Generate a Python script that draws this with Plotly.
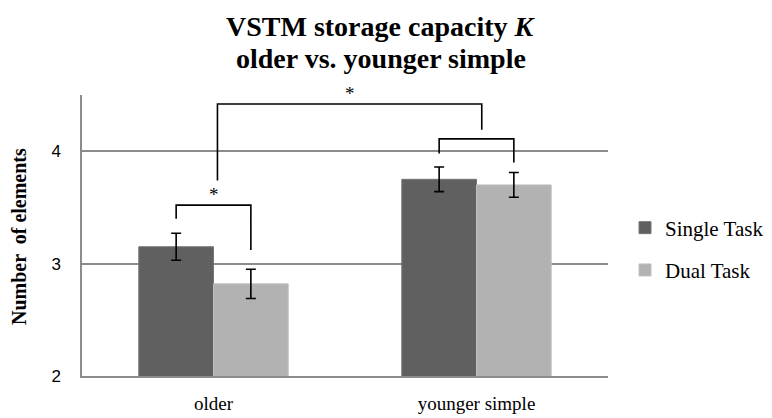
import plotly.graph_objects as go

# === DATA ===
groups = ['older', 'younger simple']
group_pos = [0, 1]
series_names = ['Single Task', 'Dual Task']
single_task = [3.15, 3.75]
single_err = [0.12, 0.11]
dual_task = [2.82, 3.70]
dual_err = [0.13, 0.11]
y_ticks = [2, 3, 4]

# significance brackets: (left x, right x, top y, left foot y, right foot y, label)
brackets = [
    (-0.142, 0.142, 3.52, 3.40, 3.12, '*'),
    (0.015, 1.02, 4.42, 3.74, 4.19, '*'),
    (0.858, 1.142, 4.11, 3.98, 3.90, ''),
]

SERIF = 'Liberation Serif, Times New Roman, serif'
colors = {'Single Task': '#606060', 'Dual Task': '#b2b2b2'}
edges = {'Single Task': '#767676', 'Dual Task': '#c0c0c0'}

# page body has an 8px margin, so the figure is drawn 8px smaller
W, H = 764, 410
L, R, T, B = 74, 164, 87, 42
plot_w = W - L - R
plot_h = H - T - B


def px(x):
    # window pixel column -> paper x
    return (x - 8 - L) / plot_w


def py(y):
    # window pixel row -> paper y
    return (H - B - (y - 8)) / plot_h


fig = go.Figure()
for name, vals, errs in zip(series_names, [single_task, dual_task], [single_err, dual_err]):
    fig.add_trace(go.Bar(
        x=group_pos, y=vals, name=name,
        marker=dict(color=colors[name], line=dict(color=edges[name], width=1)),
        error_y=dict(type='data', array=errs, color='black', thickness=1.6, width=5),
        legendgroup=name,
    ))

# === BRACKETS ===
for x0, x1, top, f0, f1, label in brackets:
    fig.add_shape(type='path',
                  path=f'M {x0},{f0} L {x0},{top} L {x1},{top} L {x1},{f1}',
                  xref='x', yref='y', line=dict(color='black', width=1.6))
    if label:
        fig.add_annotation(x=(x0 + x1) / 2, y=top, text=label, showarrow=False,
                           yanchor='bottom', yshift=-2, font=dict(family=SERIF, size=19, color='black'))

# === TITLE (two lines) ===
fig.add_annotation(text='<b>VSTM storage capacity <i>K</i></b>', xref='paper', yref='paper',
                   x=px(381), y=py(27), xanchor='center', yanchor='middle',
                   showarrow=False, font=dict(family=SERIF, size=28, color='black'))
fig.add_annotation(text='<b>older vs. younger simple</b>', xref='paper', yref='paper',
                   x=px(381), y=py(58), xanchor='center', yanchor='middle',
                   showarrow=False, font=dict(family=SERIF, size=28, color='black'))

# === Y AXIS TITLE ===
fig.add_annotation(text='<b>Number  of elements</b>', xref='paper', yref='paper',
                   x=px(19), y=py(237), xanchor='center', yanchor='middle',
                   textangle=-90, showarrow=False, font=dict(family=SERIF, size=20, color='black'))

fig.update_layout(
    width=W, height=H,
    margin=dict(l=L, r=R, t=T, b=B, autoexpand=False),
    paper_bgcolor='white', plot_bgcolor='white',
    barmode='group', bargap=0.432, bargroupgap=0,
    legend=dict(x=px(625), xanchor='left', y=py(249), yanchor='middle',
                tracegroupgap=12, font=dict(family=SERIF, size=21, color='black'), itemwidth=30),
    showlegend=True,
)
fig.update_xaxes(range=[-0.5, 1.5], tickvals=group_pos, ticktext=groups, showgrid=False,
                 showline=True, linecolor='#8c8c8c', linewidth=2, ticks='', zeroline=False,
                 automargin=False, ticklabelstandoff=9,
                 tickfont=dict(family=SERIF, size=19, color='black'))
fig.update_yaxes(range=[2, 4.5], tickvals=y_ticks, showgrid=True, gridcolor='#8c8c8c', gridwidth=1.5,
                 showline=True, linecolor='#8c8c8c', linewidth=1.5, ticks='', zeroline=False,
                 automargin=False, ticklabelstandoff=16,
                 tickfont=dict(family='Liberation Sans, Arial, sans-serif', size=17, color='black'))

fig.write_html('out.html')
